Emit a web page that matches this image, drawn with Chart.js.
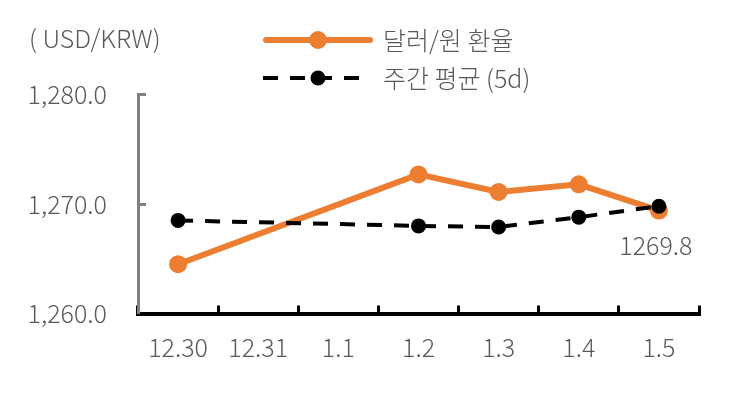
<!DOCTYPE html>
<html>
<head>
<meta charset="utf-8">
<script src="https://cdn.jsdelivr.net/npm/chart.js@4.4.0/dist/chart.umd.min.js"></script>
<style>
html, body { margin: 0; padding: 0; background: #fff; }
</style>
</head>
<body>
<canvas id="myChart" width="746" height="412"></canvas>
<script>
// data
const labels = ['12.30', '12.31', '1.1', '1.2', '1.3', '1.4', '1.5'];
const rate = [1264.5, null, null, 1272.7, 1271.1, 1271.8, 1269.4];
const avg5d = [1268.5, null, null, 1268.0, 1267.9, 1268.8, 1269.8];
const yTicks = [1260, 1270, 1280];

const FONT = '"Noto Sans CJK KR", "Noto Sans", sans-serif';
const WEIGHT = 300;
const SIZE = 25;
const TEXT = '#595959';

// legend, unit label and the last-value label
const decor = {
    id: 'decor',
    afterDraw(chart) {
        const c = chart.ctx;
        c.save();
        c.font = WEIGHT + ' ' + SIZE + 'px ' + FONT;
        c.textBaseline = 'middle';
        c.fillStyle = TEXT;
        c.textAlign = 'left';
        c.fillText('( USD/KRW)', 29, 38);

        chart.data.datasets.forEach((ds, i) => {
            const y = 40 + i * 38;
            c.strokeStyle = ds.borderColor;
            c.lineWidth = ds.borderWidth;
            c.lineCap = ds.borderDash ? 'butt' : 'round';
            c.setLineDash(ds.borderDash || []);
            c.beginPath();
            c.moveTo(ds.borderDash ? 263 : 266, y);
            c.lineTo(ds.borderDash ? 368 : 370, y);
            c.stroke();
            c.setLineDash([]);
            c.fillStyle = ds.pointBackgroundColor;
            c.beginPath();
            c.arc(318, y, ds.pointRadius, 0, Math.PI * 2);
            c.fill();
            c.fillStyle = TEXT;
            c.fillText(ds.label, 383, y);
        });

        const meta = chart.getDatasetMeta(1);
        const pt = meta.data[meta.data.length - 1];
        c.textAlign = 'center';
        c.fillText(avg5d[avg5d.length - 1].toFixed(1), pt.x - 3, pt.y + 39);
        c.restore();
    }
};

const ctx = document.getElementById('myChart').getContext('2d');
let myChart = new Chart(ctx, {
    type: 'line',
    data: {
        labels: labels,
        datasets: [{
            label: '달러/원 환율',
            data: rate,
            borderColor: '#ED7D31',
            backgroundColor: '#ED7D31',
            pointBackgroundColor: '#ED7D31',
            pointBorderWidth: 0,
            borderWidth: 6,
            pointRadius: 9,
            spanGaps: true,
            order: 2
        }, {
            label: '주간 평균 (5d)',
            data: avg5d,
            borderColor: '#000000',
            backgroundColor: '#000000',
            pointBackgroundColor: '#000000',
            pointBorderWidth: 0,
            borderWidth: 4,
            borderDash: [15, 12],
            pointRadius: 7.5,
            spanGaps: true,
            order: 1
        }]
    },
    options: {
        responsive: false,
        animation: false,
        devicePixelRatio: 1,
        layout: { padding: { top: 94.5, right: 47, left: 0, bottom: 0 } },
        plugins: {
            legend: { display: false },
            tooltip: { enabled: false }
        },
        scales: {
            x: {
                offset: true,
                grid: {
                    offset: true,
                    drawOnChartArea: false,
                    tickLength: -8,
                    tickWidth: 3,
                    tickColor: '#000000'
                },
                border: { color: '#000000', width: 4 },
                ticks: {
                    color: TEXT,
                    font: { family: FONT, size: SIZE, weight: WEIGHT },
                    padding: 27,
                    maxRotation: 0,
                    autoSkip: false
                },
                afterFit: s => { s.height = 412 - 313.5; }
            },
            y: {
                min: 1260,
                max: 1280,
                afterBuildTicks: s => { s.ticks = yTicks.map(v => ({ value: v })); },
                grid: {
                    drawOnChartArea: false,
                    tickLength: -8,
                    tickWidth: 3,
                    tickColor: c => c.tick && c.tick.value === 1260 ? 'rgba(0,0,0,0)' : '#7f7f7f'
                },
                border: { color: '#7f7f7f', width: 3 },
                ticks: {
                    color: TEXT,
                    font: { family: FONT, size: SIZE, weight: WEIGHT },
                    padding: 39,
                    callback: v => v.toLocaleString('en-US', { minimumFractionDigits: 1 })
                },
                afterFit: s => { s.width = 138; }
            }
        }
    },
    plugins: [decor]
});
</script>
</body>
</html>
